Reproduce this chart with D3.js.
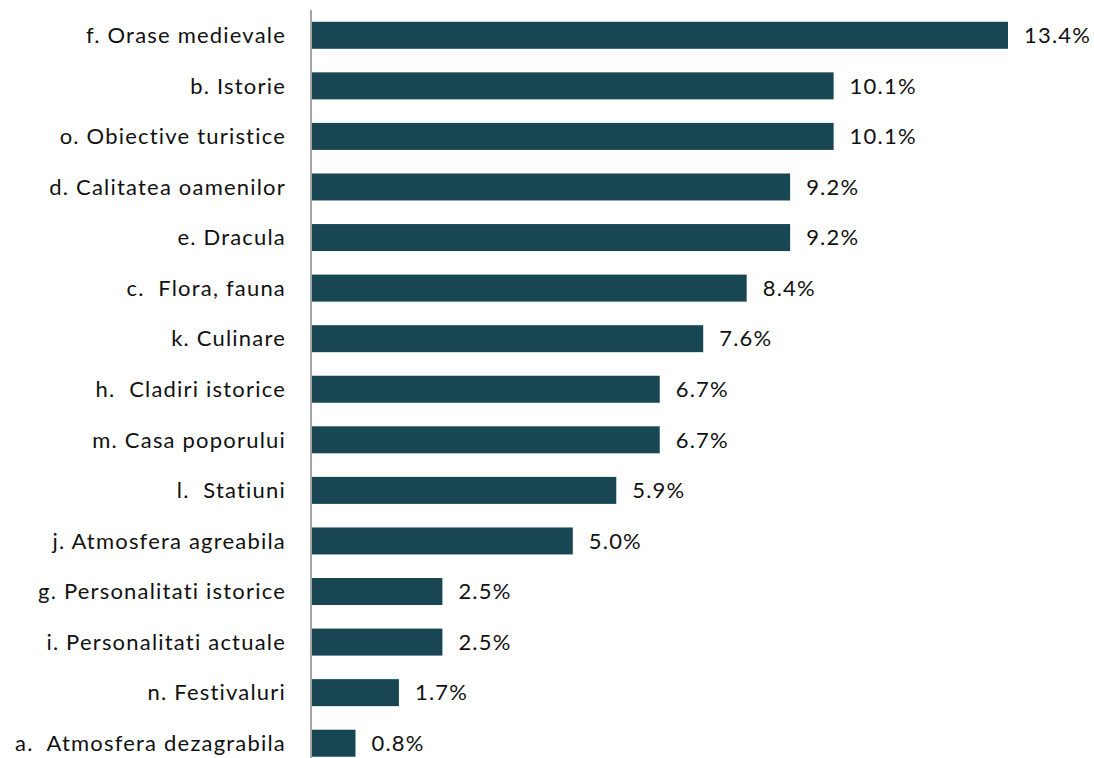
<!DOCTYPE html>
<html><head><meta charset="utf-8">
<script src="https://cdn.jsdelivr.net/npm/d3@7"></script>
<style>body{margin:0;background:#fff}svg{display:block}text{white-space:pre;font-variant-ligatures:none;font-feature-settings:"liga" 0,"clig" 0;letter-spacing:1.2px}</style>
</head><body>
<script>
const categories = ["f. Orase medievale","b. Istorie","o. Obiective turistice","d. Calitatea oamenilor","e. Dracula","c.  Flora, fauna","k. Culinare","h.  Cladiri istorice","m. Casa poporului","l.  Statiuni","j. Atmosfera agreabila","g. Personalitati istorice","i. Personalitati actuale","n. Festivaluri","a.  Atmosfera dezagrabila"];
const values = [13.45,10.08,10.08,9.24,9.24,8.40,7.56,6.72,6.72,5.88,5.04,2.52,2.52,1.68,0.84];

const W=1094,H=758;
const svg=d3.select("body").append("svg").attr("width",W).attr("height",H);
const x=d3.scaleLinear().domain([0,13.45]).range([312,1008]);
const y=d3.scaleBand().domain(categories).range([10,768.5]).paddingInner(0.466).paddingOuter(0.233);
const data=categories.map((c,i)=>({c,v:values[i]}));
const font="Lato, sans-serif";

svg.selectAll("rect.bar").data(data).join("rect").attr("class","bar")
 .attr("x",x(0)).attr("y",d=>y(d.c)).attr("width",d=>x(d.v)-x(0)).attr("height",y.bandwidth())
 .attr("fill","#184753");

svg.append("line").attr("x1",311).attr("x2",311).attr("y1",10).attr("y2",H).attr("stroke","#a6a6a6").attr("stroke-width",2);

svg.selectAll("text.cat").data(data).join("text").attr("class","cat")
 .attr("x",286).attr("y",d=>y(d.c)+y.bandwidth()/2).attr("dy","0.35em").attr("text-anchor","end")
 .style("font-family",font).style("font-size","22px").attr("fill","#111").text(d=>d.c);

svg.selectAll("text.val").data(data).join("text").attr("class","val")
 .attr("x",d=>x(d.v)+16).attr("y",d=>y(d.c)+y.bandwidth()/2).attr("dy","0.35em")
 .style("font-family",font).style("font-size","22px").attr("fill","#111").text(d=>d3.format(".1f")(d.v)+"%");
</script>
</body></html>
